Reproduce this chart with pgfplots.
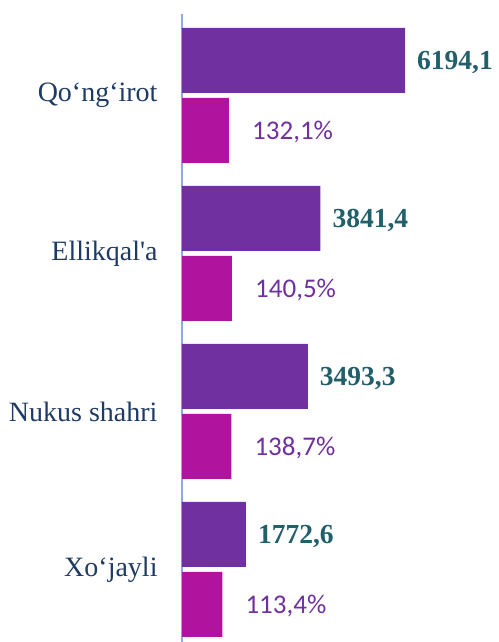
\documentclass[border=0pt]{standalone}
\usepackage{fontspec}
\usepackage{pgfplots}
\pgfplotsset{compat=1.18}
\newfontfamily\catfont{Liberation Serif}
\newfontfamily\pctfont{Carlito}
\definecolor{barpurple}{HTML}{7030A0}
\definecolor{barmag}{HTML}{B0139E}
\definecolor{valteal}{HTML}{215F6B}
\definecolor{catblue}{HTML}{1F3B64}
\definecolor{axblue}{HTML}{8FAADC}
\begin{document}
\begin{tikzpicture}
\useasboundingbox (-182pt,0pt) rectangle (316pt,642pt);
\begin{axis}[
  scale only axis, width=316pt, height=628pt,
  xmin=0, xmax=8777, ymin=-0.4589, ymax=3.5158,
  xbar, bar width=65pt,
  hide x axis,
  axis y line*=left,
  y axis line style={color=axblue, line width=1.4pt, -},
  ytick={0,1,2,3},
  yticklabels={Xo‘jayli, Nukus shahri, Ellikqal'a, Qo‘ng‘irot},
  ytick style={draw=none},
  yticklabel style={font=\catfont\fontsize{28}{33}\selectfont, text=catblue, anchor=east, inner sep=0pt, xshift=-20pt},
  point meta=explicit symbolic,
  nodes near coords,
  nodes near coords style={font=\catfont\bfseries\fontsize{27.5}{33}\selectfont, text=valteal, anchor=west, inner sep=0pt, xshift=12pt, yshift=-2pt},
]
\addplot[fill=barpurple, draw=none, bar shift=0pt] coordinates {
  (1772.6,0.2215) [1772,6]
  (3493.3,1.2215) [3493,3]
  (3841.4,2.2215) [3841,4]
  (6194.1,3.2215) [6194,1]
};
\end{axis}
\begin{axis}[
  scale only axis, width=316pt, height=628pt,
  xmin=0, xmax=888.2, ymin=-0.4589, ymax=3.5158,
  xbar, bar width=65pt,
  hide x axis, hide y axis,
  point meta=explicit symbolic,
  nodes near coords,
  nodes near coords style={font=\pctfont\fontsize{27}{32}\selectfont, text=barpurple, anchor=west, inner sep=0pt, xshift=23pt, yshift=-1.5pt},
]
\addplot[fill=barmag, draw=none, bar shift=0pt] coordinates {
  (113.4,-0.2215) [113,4\%]
  (138.7,0.7785) [138,7\%]
  (140.5,1.7785) [140,5\%]
  (132.1,2.7785) [132,1\%]
};
\end{axis}
\end{tikzpicture}
\end{document}
